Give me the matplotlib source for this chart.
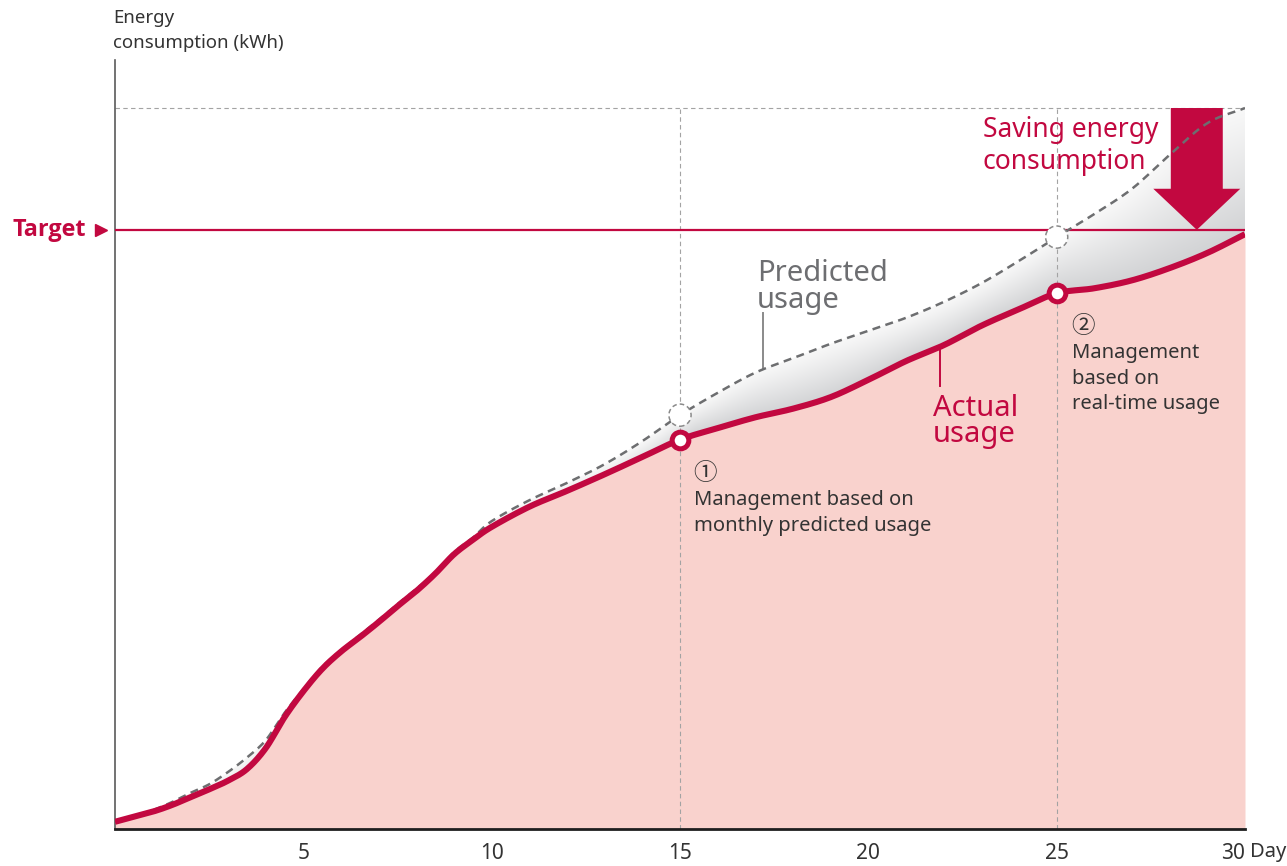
import numpy as np
import matplotlib
matplotlib.use("Agg")
import matplotlib.pyplot as plt
import matplotlib.transforms as mtransforms
from matplotlib.patches import FancyArrow
from matplotlib.colors import to_rgb

# ---- data -------------------------------------------------------------
days = [0, 0.5, 1, 1.5, 2, 2.5, 3, 3.5, 4, 4.5, 5, 5.5, 6, 6.5, 7, 7.5, 8, 8.5, 9, 9.5, 10,
        11, 12, 13, 14, 15, 16, 17, 18, 19, 20, 21, 22, 23, 24, 25, 26, 27, 28, 29, 30]
actual_kwh = [1.0, 1.7, 2.4, 3.3, 4.4, 5.5, 6.7, 8.3, 11.2, 15.5, 19.1, 22.2, 24.6, 26.6, 28.7,
              30.9, 33.0, 35.4, 38.1, 40.1, 41.9,
              44.7, 46.9, 49.2, 51.6, 54.0, 55.6, 57.1, 58.3, 59.9, 62.3, 64.9, 67.1, 69.8,
              72.1, 74.3, 75.0, 76.1, 77.8, 79.9, 82.5]
predicted_kwh = [1.1, 1.8, 2.6, 3.7, 5.0, 6.2, 7.9, 9.9, 12.3, 16.1, 19.4, 22.5, 24.8, 26.9, 29.0,
                 31.2, 33.3, 35.6, 38.4, 40.4, 42.7,
                 45.6, 48.0, 50.6, 53.8, 57.4, 60.5, 63.3, 65.3, 67.3, 69.1, 70.9, 73.1, 75.7,
                 78.8, 82.1, 85.3, 88.8, 93.5, 97.9, 100.0]
target_kwh = 83.1
checkpoint_days = [15, 25]
tick_days = [5, 10, 15, 20, 25, 30]
tick_labels = ["5", "10", "15", "20", "25", "30"]

# ---- style ------------------------------------------------------------
RED = "#c20840"
PINK = "#f9d2cd"
GREY_TXT = "#6d6e71"
DARK_TXT = "#333333"
plt.rcParams["font.family"] = ["Noto Sans", "Noto Sans CJK JP", "DejaVu Sans"]


def smooth_curve(x, y, n=16):
    """Catmull-Rom curve through the given points, for drawing smooth lines."""
    x = np.asarray(x, float)
    y = np.asarray(y, float)
    xp = np.concatenate([[2 * x[0] - x[1]], x, [2 * x[-1] - x[-2]]])
    yp = np.concatenate([[2 * y[0] - y[1]], y, [2 * y[-1] - y[-2]]])
    s = np.linspace(0, 1, n, endpoint=False)
    h00 = 2 * s**3 - 3 * s**2 + 1
    h10 = s**3 - 2 * s**2 + s
    h01 = -2 * s**3 + 3 * s**2
    h11 = s**3 - s**2
    ox, oy = [], []
    for i in range(1, len(xp) - 2):
        mx1, my1 = (xp[i + 1] - xp[i - 1]) / 2, (yp[i + 1] - yp[i - 1]) / 2
        mx2, my2 = (xp[i + 2] - xp[i]) / 2, (yp[i + 2] - yp[i]) / 2
        ox.append(h00 * xp[i] + h10 * mx1 + h01 * xp[i + 1] + h11 * mx2)
        oy.append(h00 * yp[i] + h10 * my1 + h01 * yp[i + 1] + h11 * my2)
    ox.append([x[-1]])
    oy.append([y[-1]])
    return np.concatenate(ox), np.concatenate(oy)


sx_a, sy_a = smooth_curve(days, actual_kwh)
sx_p, sy_p = smooth_curve(days, predicted_kwh)

W, H = 1287, 866
fig = plt.figure(figsize=(W / 100, H / 100), dpi=100)
ax = fig.add_axes([115 / W, 37 / H, 1130 / W, 769 / H])
XMAX, YMAX = 30, 106.66

# pink area under the actual usage
ax.fill_between(sx_a, 0, sy_a, color=PINK, lw=0, zorder=1)

# grey shaded band between actual and predicted usage (darker near the actual line)
xs = np.linspace(0, XMAX, 1200)
ys = np.linspace(0, YMAX, 900)
a = np.interp(xs, sx_a, sy_a)
p = np.interp(xs, sx_p, sy_p)
gap = np.maximum(p - a, 1e-6)
t = np.clip((ys[:, None] - a[None, :]) / gap[None, :], 0, 1)
strength = np.clip(gap / 4.0, 0, 1)[None, :]
dark = np.array(to_rgb("#d1d2d4"))
light = np.array(to_rgb("#f8f8f8"))
wgt = ((1 - t) ** 1.1 * strength)[..., None]
img = light + (dark - light) * wgt
im = ax.imshow(img, extent=(0, XMAX, 0, YMAX), origin="lower", aspect="auto",
               interpolation="bilinear", zorder=1.5)
band = ax.fill_between(xs, a, p, facecolor="none", lw=0, zorder=1.4)
im.set_clip_path(band.get_paths()[0], transform=ax.transData)

# dotted reference lines
top_kwh = predicted_kwh[-1]
grid_kw = dict(color="#a3a3a3", lw=0.8, linestyle=(0, (4, 3)), zorder=2)
ax.plot([0, XMAX], [top_kwh, top_kwh], **grid_kw)
for d in checkpoint_days:
    ax.plot([d, d], [0, top_kwh], **grid_kw)

# target line
ax.plot([0, XMAX], [target_kwh, target_kwh], color=RED, lw=1.6, zorder=3)

# saving arrow from predicted month-end down to target
arrow_day = 28.72
ax.add_patch(FancyArrow(arrow_day, top_kwh, 0, target_kwh - top_kwh, width=1.38,
                        head_width=2.31, head_length=5.7, length_includes_head=True,
                        color=RED, lw=0, zorder=3.2))

# predicted and actual curves
ax.plot(sx_p, sy_p, color="#6d6e70", lw=1.8, dashes=(3.2, 2.2), zorder=4)
ax.plot(sx_a, sy_a, color=RED, lw=4.4, solid_joinstyle="round",
        solid_capstyle="butt", zorder=5)

# checkpoint markers
act_cp = np.interp(checkpoint_days, days, actual_kwh)
pred_cp = np.interp(checkpoint_days, days, predicted_kwh)
ax.scatter(checkpoint_days, pred_cp, s=255, facecolor="white", edgecolor="#8a8a8a",
           linewidths=1.1, linestyle=(0, (3, 2)), zorder=4.5)
ax.plot(checkpoint_days, act_cp, "o", ms=12, mfc="white", mec=RED, mew=3.6, zorder=6)

# labels on the chart
ax.text(17.04, 79.0, "Predicted\nusage", color=GREY_TXT, fontsize=21,
        linespacing=0.9, va="top", ha="left", zorder=7)
lead_x = 17.2
ax.plot([lead_x, lead_x], [71.6, np.interp(lead_x, sx_p, sy_p)],
        color="#8a8a8a", lw=1.4, zorder=3.5)

ax.text(21.72, 60.4, "Actual\nusage", color=RED, fontsize=21,
        linespacing=0.9, va="top", ha="left", zorder=7)
lead_x2 = 21.9
ax.plot([lead_x2, lead_x2], [np.interp(lead_x2, sx_a, sy_a), 61.4],
        color=RED, lw=1.4, zorder=3.5)

ax.text(23.04, 98.9, "Saving energy\nconsumption", color=RED, fontsize=19,
        linespacing=1.2, va="top", ha="left", zorder=7)

# checkpoint notes
note_kw = dict(color=DARK_TXT, fontsize=14.5, linespacing=1.37, va="top", ha="left", zorder=7)
num_kw = dict(color=DARK_TXT, fontsize=17, va="center", ha="left", zorder=7,
              family=["Noto Sans CJK JP", "DejaVu Sans"])
ax.text(15.35, 49.3, "\u2460", **num_kw)
ax.text(15.38, 47.0, "Management based on\nmonthly predicted usage", **note_kw)
ax.text(25.38, 69.7, "\u2461", **num_kw)
ax.text(25.4, 67.4, "Management\nbased on\nreal-time usage", **note_kw)

# axes styling
ax.set_xlim(0, XMAX)
ax.set_ylim(0, YMAX)
for side in ("top", "right"):
    ax.spines[side].set_visible(False)
ax.spines["left"].set_color("#5a5a5a")
ax.spines["left"].set_linewidth(1.2)
ax.spines["bottom"].set_color("#1e1e1e")
ax.spines["bottom"].set_linewidth(2.0)
ax.spines["bottom"].set_zorder(8)
ax.set_yticks([])
ax.set_xticks(tick_days)
ax.set_xticklabels(tick_labels)
ax.tick_params(axis="x", length=0, pad=10, labelsize=15, labelcolor=DARK_TXT)
ax.get_xticklabels()[-1].set_ha("right")
ax.text(1.0045, -0.0305, "Day", transform=ax.transAxes, fontsize=14.5, color=DARK_TXT,
        ha="left", va="center")

# y-axis title and target marker
fig.text(113 / W, 1 - 9 / H, "Energy\nconsumption (kWh)", fontsize=13.4, color=DARK_TXT,
         ha="left", va="top", linespacing=1.48)
blend = mtransforms.blended_transform_factory(ax.transAxes, ax.transData)
ax.text(-0.0257, target_kwh, "Target", transform=blend, fontsize=16.8, fontweight="bold",
        family=["Open Sans", "Roboto", "DejaVu Sans"],
        color=RED, ha="right", va="center", clip_on=False)
ax.plot([-0.0124], [target_kwh], marker=">", ms=8, color=RED, transform=blend,
        clip_on=False, lw=0)

fig.savefig("out.png", dpi=100)
